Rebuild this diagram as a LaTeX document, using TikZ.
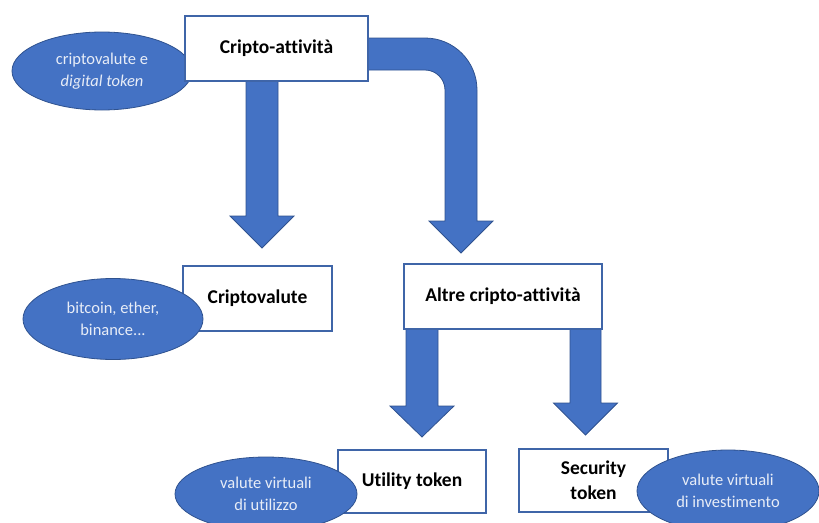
\documentclass[tikz,border=0pt]{standalone}
\usepackage{fontspec}
\setmainfont{Carlito}[Ligatures={NoCommon}]
\usetikzlibrary{shapes.geometric}
\definecolor{fillblue}{HTML}{4472C4}
\definecolor{edgeblue}{HTML}{2F528F}
\definecolor{boxedge}{HTML}{3F65A8}
\definecolor{ltext}{HTML}{E8EDF7}
\tikzset{
  box/.style={draw=boxedge, line width=1.1pt, fill=white, align=center, inner sep=0pt,
    font=\bfseries\fontsize{19.5}{25}\selectfont},
  bubble/.style={ellipse, draw=edgeblue, line width=0.8pt, fill=fillblue, text=ltext,
    align=center, inner sep=0pt, font=\fontsize{16.5}{21.5}\selectfont},
  blockarrow/.style={fill=fillblue, draw=edgeblue, line width=0.8pt, line join=miter},
}
\newcommand{\downarrowshape}[6]{% left x, right x, top y, head base y, tip y, head half width
  \pgfmathsetmacro{\cx}{(#1+#2)/2}
  \path[blockarrow]
    (#1,#3) -- (#1,#4) -- ({\cx-#6},#4) -- (\cx,#5) -- ({\cx+#6},#4) -- (#2,#4) -- (#2,#3);
}
\begin{document}
\begin{tikzpicture}[x=1pt,y=-1pt]
\useasboundingbox (0,0) rectangle (819,522);

% block arrows (drawn first, boxes cover their tails)
\downarrowshape{246}{278}{76}{216}{248}{32}
\path[blockarrow]
  (362,38) -- (425,38) .. controls (453.7,38) and (477,61.3) .. (477,90)
  -- (477,221) -- (493,221) -- (461,253) -- (429,221) -- (445,221)
  -- (445,90) .. controls (445,79) and (436,70) .. (425,70) -- (362,70);
\downarrowshape{406}{438}{324}{406}{437}{32}
\downarrowshape{570}{601}{324}{403}{435}{32}

% top ellipse behind the box
\node[bubble, minimum width=180pt, minimum height=78pt] (e1) at (102,71)
  {criptovalute e\\\itshape digital token};

% boxes
\node[box, minimum width=183pt, minimum height=65pt] (top) at (276.5,48.5) {Cripto-attività};
\node[box, minimum width=149pt, minimum height=65pt] (crv) at (257.5,298.5) {Criptovalute};
\node[box, minimum width=198pt, minimum height=65pt] (alt) at (503,296.5) {Altre cripto-attività};
\node[box, minimum width=148pt, minimum height=63pt] (utl) at (412,481.5) {Utility token};
\node[box, minimum width=149pt, minimum height=63pt] (sec) at (593.5,480.5) {Security\\token};

% ellipses on top of boxes
\node[bubble, minimum width=180pt, minimum height=81pt] (e2) at (113,319)
  {bitcoin, ether,\\binance...};
\node[bubble, minimum width=182pt, minimum height=74pt] (e3) at (266,494)
  {valute virtuali\\di utilizzo};
\node[bubble, minimum width=182pt, minimum height=82pt] (e4) at (728,491)
  {valute virtuali\\di investimento};
\end{tikzpicture}
\end{document}
